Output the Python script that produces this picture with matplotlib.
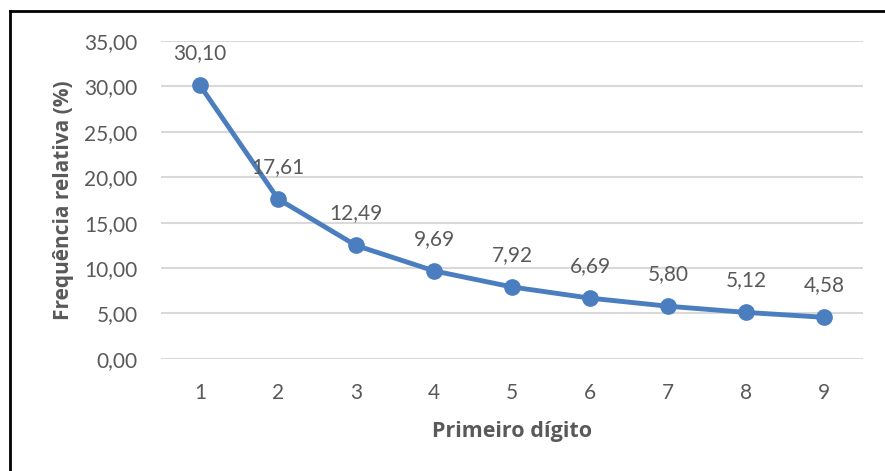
import matplotlib.pyplot as plt
from matplotlib.lines import Line2D

# Benford: frequência relativa do primeiro dígito
digitos = [1, 2, 3, 4, 5, 6, 7, 8, 9]
frequencia = [30.10, 17.61, 12.49, 9.69, 7.92, 6.69, 5.80, 5.12, 4.58]
yticks = [0, 5, 10, 15, 20, 25, 30, 35]

plt.rcParams['font.family'] = ['Lato', 'DejaVu Sans']
cor_texto = '#595959'
azul = '#4A7EBF'

fig = plt.figure(figsize=(8.85, 4.71), dpi=100)
ax = fig.add_axes([0.182, 0.238, 0.793, 0.675])

ax.plot(digitos, frequencia, color=azul, lw=3.5, marker='o', ms=11,
        solid_capstyle='round', zorder=3)

for x, y in zip(digitos, frequencia):
    ax.annotate(f'{y:.2f}'.replace('.', ','), (x, y), xytext=(0, 23),
                textcoords='offset points', ha='center', va='center',
                fontsize=15, color=cor_texto)

ax.set_xlim(0.5, 9.5)
ax.set_ylim(0, 35)
ax.set_xticks(digitos)
ax.set_yticks(yticks)
ax.set_yticklabels([f'{v:.2f}'.replace('.', ',') for v in yticks])
ax.tick_params(axis='both', length=0, labelsize=15, colors=cor_texto)
ax.tick_params(axis='y', pad=17)
ax.tick_params(axis='x', pad=17)
ax.grid(axis='y', color='#D9D9D9', lw=1.5)
ax.set_axisbelow(True)
for s in ax.spines.values():
    s.set_visible(False)

rotulo = dict(fontweight='bold', color=cor_texto,
              family=['Open Sans', 'DejaVu Sans'])
ax.set_xlabel('Primeiro dígito', fontsize=15.5, labelpad=13, **rotulo)
ax.set_ylabel('Frequência relativa (%)', fontsize=15, labelpad=7, **rotulo)

# moldura (apenas topo e esquerda visíveis)
fig.add_artist(Line2D([10 / 885, 1], [1 - 11 / 471, 1 - 11 / 471],
                      color='black', lw=2, transform=fig.transFigure))
fig.add_artist(Line2D([10 / 885, 10 / 885], [0, 1 - 11 / 471],
                      color='black', lw=2, transform=fig.transFigure))

fig.savefig('out.png', dpi=100)
